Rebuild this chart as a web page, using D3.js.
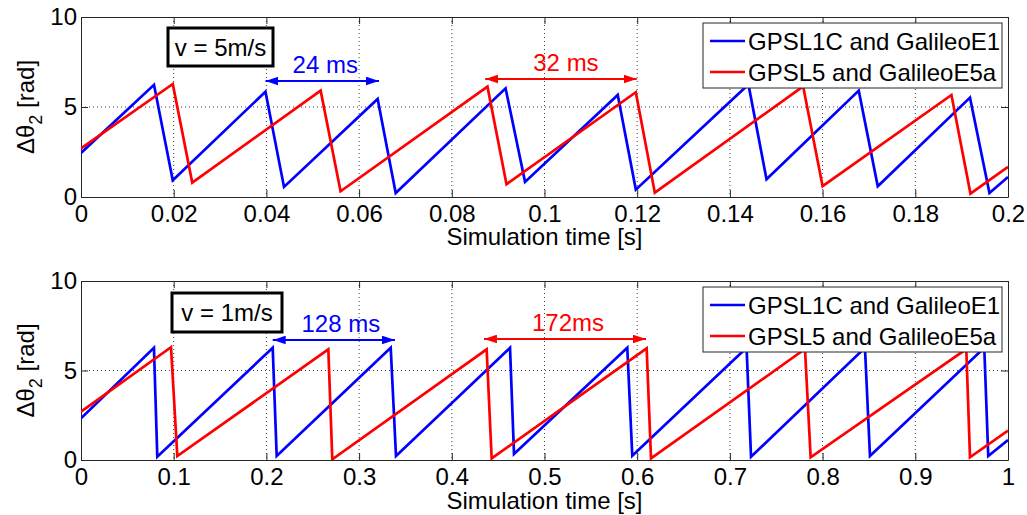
<!DOCTYPE html>
<html><head><meta charset="utf-8">
<script src="https://cdn.jsdelivr.net/npm/d3@7"></script>
<style>body{margin:0;background:#fff;}svg{display:block;}text{font-family:"Liberation Sans",Arial,Helvetica,sans-serif;}</style>
</head><body>
<svg id="chart" width="1027" height="515"></svg>
<script>
// ---------- data ----------
// Top panel (v = 5 m/s): sawtooth vertices [time s, value rad]
const topBlueT = [0, 0.01575, 0.0198, 0.0398, 0.0438, 0.0640, 0.0679, 0.0916, 0.0958, 0.1158, 0.1197, 0.1440, 0.1479, 0.1678, 0.1719, 0.1918, 0.1960, 0.2];
const topBlueV = [2.45, 6.23, 0.93, 5.85, 0.56, 5.45, 0.22, 6.04, 0.84, 5.67, 0.41, 6.25, 0.99, 5.91, 0.60, 5.52, 0.22, 1.11];
const topRedT  = [0, 0.0198, 0.0240, 0.0517, 0.0560, 0.0877, 0.0918, 0.1197, 0.1238, 0.1558, 0.1600, 0.1878, 0.1919, 0.2];
const topRedV  = [2.70, 6.28, 0.80, 5.91, 0.32, 6.13, 0.71, 5.82, 0.24, 6.15, 0.60, 5.67, 0.19, 1.67];
// Bottom panel (v = 1 m/s)
const botBlueT = [0, 0.0787, 0.0823, 0.2068, 0.2111, 0.3341, 0.3398, 0.4628, 0.4671, 0.5893, 0.5947, 0.7180, 0.7228, 0.8457, 0.8511, 0.9744, 0.9787, 1.0];
const botBlueV = [2.33, 6.27, 0.18, 6.27, 0.22, 6.27, 0.22, 6.27, 0.34, 6.27, 0.24, 6.27, 0.18, 6.27, 0.22, 6.27, 0.22, 1.12];
const botRedT  = [0, 0.0971, 0.1039, 0.2668, 0.2711, 0.4376, 0.4430, 0.6102, 0.6149, 0.7810, 0.7871, 0.9550, 0.9590, 1.0];
const botRedV  = [2.70, 6.30, 0.22, 6.18, 0.04, 6.18, 0.09, 6.24, 0.09, 6.20, 0.15, 6.20, 0.15, 1.64];

const topXTicks = [0, 0.02, 0.04, 0.06, 0.08, 0.1, 0.12, 0.14, 0.16, 0.18, 0.2];
const topXLabels = ["0", "0.02", "0.04", "0.06", "0.08", "0.1", "0.12", "0.14", "0.16", "0.18", "0.2"];
const botXTicks = [0, 0.1, 0.2, 0.3, 0.4, 0.5, 0.6, 0.7, 0.8, 0.9, 1];
const botXLabels = ["0", "0.1", "0.2", "0.3", "0.4", "0.5", "0.6", "0.7", "0.8", "0.9", "1"];
const yTicks = [0, 5, 10];
const yLabels = ["0", "5", "10"];
const seriesNames = ["GPSL1C and GalileoE1", "GPSL5 and GalileoE5a"];
const seriesColors = ["#0000ff", "#ff0000"];
const xLabelText = "Simulation time [s]";
const speedLabels = ["v = 5m/s", "v = 1m/s"];
// annotations: [start, end] in seconds, label
const topBlueSpan = [0.0398, 0.0643], topBlueLabel = "24 ms";
const topRedSpan = [0.0872, 0.1199], topRedLabel = "32 ms";
const botBlueSpan = [0.2068, 0.3387], botBlueLabel = "128 ms";
const botRedSpan = [0.4347, 0.6095], botRedLabel = "172ms";

// ---------- drawing ----------
const svg = d3.select("#chart");
const font = 24;
const left = 81, right = 1008;

const defs = svg.append("defs");
seriesColors.forEach((c, i) => {
  ["s", "e"].forEach(k => {
    defs.append("marker").attr("id", "ar" + i + k)
      .attr("viewBox", "0 0 12 8").attr("refX", 12).attr("refY", 4)
      .attr("markerUnits", "userSpaceOnUse")
      .attr("markerWidth", 13).attr("markerHeight", 9)
      .attr("orient", k === "s" ? "auto-start-reverse" : "auto")
      .append("path").attr("d", "M0,0 L12,4 L0,8 Z").attr("fill", c);
  });
});

function panel(cfg) {
  const g = svg.append("g");
  const x = d3.scaleLinear().domain(cfg.xDomain).range([left, right]);
  const y = d3.scaleLinear().domain([0, 10]).range([cfg.bottom, cfg.top]);

  // grid
  g.append("g").selectAll("line").data(cfg.xTicks.slice(1, -1)).join("line")
    .attr("x1", d => x(d)).attr("x2", d => x(d)).attr("y1", cfg.top).attr("y2", cfg.bottom)
    .attr("stroke", "#404040").attr("stroke-width", 1).attr("stroke-dasharray", "1,3");
  g.append("g").selectAll("line").data([5]).join("line")
    .attr("x1", left).attr("x2", right).attr("y1", d => y(d)).attr("y2", d => y(d))
    .attr("stroke", "#404040").attr("stroke-width", 1).attr("stroke-dasharray", "1,3");

  // axes
  const xb = d3.axisBottom(x).tickValues(cfg.xTicks).tickFormat((d, i) => cfg.xLabels[i]).tickSizeInner(-7).tickSizeOuter(0).tickPadding(8);
  const xt = d3.axisTop(x).tickValues(cfg.xTicks).tickFormat("").tickSizeInner(-7).tickSizeOuter(0);
  const yl = d3.axisLeft(y).tickValues(yTicks).tickFormat((d, i) => yLabels[i]).tickSizeInner(-7).tickSizeOuter(0).tickPadding(4);
  const yr = d3.axisRight(y).tickValues(yTicks).tickFormat("").tickSizeInner(-7).tickSizeOuter(0);
  const ax = [
    g.append("g").attr("transform", `translate(0,${cfg.bottom})`).call(xb),
    g.append("g").attr("transform", `translate(0,${cfg.top})`).call(xt),
    g.append("g").attr("transform", `translate(${left},0)`).call(yl),
    g.append("g").attr("transform", `translate(${right},0)`).call(yr)
  ];
  ax.forEach(a => {
    a.select(".domain").attr("stroke", "#262626").attr("stroke-width", 1);
    a.selectAll(".tick line").attr("stroke", "#262626");
    a.selectAll(".tick text").attr("font-size", font).attr("fill", "#000")
      .style("font-family", '"Liberation Sans",Arial,sans-serif');
  });

  // series
  const line = d3.line().x(d => x(d[0])).y(d => y(d[1]));
  const clipId = "clip" + cfg.id;
  defs.append("clipPath").attr("id", clipId).append("rect")
    .attr("x", left).attr("y", cfg.top).attr("width", right - left).attr("height", cfg.bottom - cfg.top);
  const data = [d3.zip(cfg.blueT, cfg.blueV), d3.zip(cfg.redT, cfg.redV)];
  [0, 1].forEach(i => {
    g.append("path").datum(data[i]).attr("d", line)
      .attr("fill", "none").attr("stroke", seriesColors[i]).attr("stroke-width", 2.7)
      .attr("stroke-linejoin", "miter").attr("clip-path", `url(#${clipId})`);
  });

  // labels
  g.append("text").attr("x", (left + right) / 2).attr("y", cfg.bottom + cfg.xlDy)
    .attr("text-anchor", "middle").attr("font-size", font).text(xLabelText);
  const yt = g.append("text").attr("transform", `translate(34,${(cfg.top + cfg.bottom) / 2}) rotate(-90)`)
    .attr("text-anchor", "middle").attr("font-size", font);
  yt.append("tspan").text("Δθ");
  yt.append("tspan").attr("font-size", 18).attr("dy", 8).text("2");
  yt.append("tspan").attr("dy", -8).text(" [rad]");

  // speed box
  const bx = cfg.box;
  g.append("rect").attr("x", bx[0]).attr("y", bx[1]).attr("width", bx[2]).attr("height", bx[3])
    .attr("fill", "#fff").attr("stroke", "#000").attr("stroke-width", 3);
  g.append("text").attr("x", bx[0] + bx[2] / 2).attr("y", bx[1] + bx[3] / 2 + 8.5)
    .attr("text-anchor", "middle").attr("font-size", font).text(cfg.speed);

  // span arrows
  cfg.spans.forEach(s => {
    g.append("line").attr("x1", x(s.span[0])).attr("x2", x(s.span[1]))
      .attr("y1", s.y).attr("y2", s.y)
      .attr("stroke", seriesColors[s.c]).attr("stroke-width", 2.2)
      .attr("marker-start", `url(#ar${s.c}s)`).attr("marker-end", `url(#ar${s.c}e)`);
    g.append("text").attr("x", (x(s.span[0]) + x(s.span[1])) / 2 + s.dx).attr("y", s.y - 8)
      .attr("text-anchor", "middle").attr("font-size", font).attr("fill", seriesColors[s.c]).text(s.label);
  });

  // legend
  const lg = g.append("g").attr("transform", `translate(703,${cfg.legTop})`);
  lg.append("rect").attr("width", 299).attr("height", 65).attr("fill", "#fff").attr("stroke", "#262626").attr("stroke-width", 1);
  seriesNames.forEach((n, i) => {
    const yy = 18 + i * 31;
    lg.append("line").attr("x1", 7).attr("x2", 42).attr("y1", yy).attr("y2", yy)
      .attr("stroke", seriesColors[i]).attr("stroke-width", 2.7);
    lg.append("text").attr("x", 45).attr("y", yy + 8.5).attr("font-size", font).text(n);
  });
}

panel({id: 0, xDomain: [0, 0.2], top: 17, bottom: 197, xTicks: topXTicks, xLabels: topXLabels,
  blueT: topBlueT, blueV: topBlueV, redT: topRedT, redV: topRedV, xlDy: 48,
  box: [168, 28, 105, 38], speed: speedLabels[0], legTop: 23,
  spans: [{span: topBlueSpan, label: topBlueLabel, c: 0, y: 81, dx: 3},
          {span: topRedSpan, label: topRedLabel, c: 1, y: 79, dx: 5}]});
panel({id: 1, xDomain: [0, 1], top: 281, bottom: 460, xTicks: botXTicks, xLabels: botXLabels,
  blueT: botBlueT, blueV: botBlueV, redT: botRedT, redV: botRedV, xlDy: 49,
  box: [172, 293, 110, 39], speed: speedLabels[1], legTop: 287,
  spans: [{span: botBlueSpan, label: botBlueLabel, c: 0, y: 340, dx: 7},
          {span: botRedSpan, label: botRedLabel, c: 1, y: 339, dx: 3}]});
</script>
</body></html>
